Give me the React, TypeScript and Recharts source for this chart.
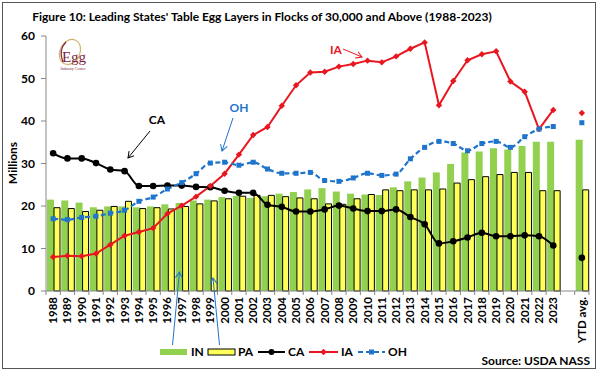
import { Bar, ComposedChart, Line, XAxis, YAxis } from "recharts";

const categories = [
  "1988", "1989", "1990", "1991", "1992", "1993", "1994", "1995", "1996", "1997",
  "1998", "1999", "2000", "2001", "2002", "2003", "2004", "2005", "2006", "2007",
  "2008", "2009", "2010", "2011", "2012", "2013", "2014", "2015", "2016", "2017",
  "2018", "2019", "2020", "2021", "2022", "2023", "", "YTD avg.",
];

const inLayers = [
  21.5, 21.3, 20.8, 19.7, 19.9, 19.9, 19.7, 19.9, 20.4, 20.7,
  21.3, 21.5, 22.1, 22.4, 21.9, 22.3, 22.9, 23.3, 23.9, 24.2,
  23.4, 22.9, 22.7, 22.6, 24.4, 25.8, 26.7, 27.9, 29.9, 32.6,
  32.8, 33.6, 33.3, 34.1, 35.1, 35.1, null, 35.6,
];
const paLayers = [
  19.6, 19.4, 18.7, 19.0, 19.9, 21.1, 19.4, 19.6, 19.3, 19.9,
  20.5, 21.2, 21.7, 22.3, 22.5, 22.5, 22.2, 21.9, 21.7, 20.5,
  20.4, 21.7, 22.7, 23.8, 23.6, 23.8, 23.8, 24.0, 25.4, 26.2,
  26.9, 27.4, 27.9, 27.9, 23.6, 23.6, null, 23.8,
];
const caLayers = [
  32.4, 31.2, 31.2, 30.1, 28.6, 28.2, 24.7, 24.7, 24.8, 24.8,
  24.5, 24.4, 23.6, 23.1, 23.1, 20.3, 19.8, 18.7, 18.7, 19.2,
  20.1, 19.4, 18.8, 18.8, 19.2, 17.4, 15.7, 11.2, 11.7, 12.6,
  13.7, 12.9, 12.9, 13.1, 12.9, 10.7, null, 7.8,
];
const iaLayers = [
  8.0, 8.3, 8.2, 8.8, 10.9, 13.0, 13.9, 14.8, 18.2, 20.1,
  22.2, 24.7, 27.6, 32.1, 36.7, 38.6, 43.6, 48.4, 51.4, 51.6,
  52.8, 53.4, 54.2, 53.8, 55.2, 57.0, 58.5, 43.7, 49.4, 54.3,
  55.7, 56.4, 49.3, 46.9, 38.1, 42.6, null, 41.9,
];
const ohLayers = [
  17.0, 16.8, 17.3, 17.6, 18.3, 19.0, 21.1, 22.1, 24.0, 25.5,
  27.6, 30.1, 30.3, 29.6, 30.3, 28.7, 27.7, 27.7, 27.9, 26.0,
  25.8, 26.6, 27.7, 27.2, 27.5, 31.1, 33.8, 35.2, 34.7, 33.0,
  34.7, 35.2, 33.8, 36.3, 38.1, 38.7, null, 39.6,
];
const yTicks = [0, 10, 20, 30, 40, 50, 60];

const data = categories.map((year, i) => ({
  year,
  IN: inLayers[i],
  PA: paLayers[i],
  CA: caLayers[i],
  IA: iaLayers[i],
  OH: ohLayers[i],
}));

const FONT = "Lato, 'Open Sans', sans-serif";
const GREEN = "#92D050";
const YELLOW = "#FFFF5A";
const RED = "#E8171F";
const BLUE = "#1F74CC";
const HALF_BAND = 7.14;

function YearTick(props: any) {
  const { x, y, payload, index } = props;
  const isLast = index === categories.length - 1;
  return (
    <g>
      <line x1={x - HALF_BAND} x2={x - HALF_BAND} y1={y} y2={y + 4} stroke="#888" />
      {isLast && <line x1={x + HALF_BAND} x2={x + HALF_BAND} y1={y} y2={y + 4} stroke="#888" />}
      <text
        x={x}
        y={y + 6}
        dy={4}
        transform={`rotate(-90, ${x}, ${y + 6})`}
        textAnchor="end"
        fontFamily={FONT}
        fontWeight={700}
        fontSize={11.5}
        fill="#000"
      >
        {payload.value}
      </text>
    </g>
  );
}

function Diamond(props: any) {
  const { cx, cy } = props;
  if (cx == null || cy == null) return <g />;
  const r = 3.2;
  return <path d={`M${cx},${cy - r}L${cx + r},${cy}L${cx},${cy + r}L${cx - r},${cy}Z`} fill={RED} />;
}

function Square(props: any) {
  const { cx, cy } = props;
  if (cx == null || cy == null) return <g />;
  return <rect x={cx - 2.5} y={cy - 2.5} width={5} height={5} fill={BLUE} />;
}

function Overlay() {
  const txt = { fontFamily: FONT, fontWeight: 700, fontSize: 12 } as const;
  return (
    <svg width={602} height={377} style={{ position: "absolute", left: 0, top: 0, pointerEvents: "none" }}>
      <defs>
        <marker id="arrK" markerWidth="8" markerHeight="8" refX="6" refY="4" orient="auto" markerUnits="userSpaceOnUse">
          <path d="M0,0.5 L6,4 L0,7.5" fill="none" stroke="#000" strokeWidth="1" />
        </marker>
        <marker id="arrR" markerWidth="8" markerHeight="8" refX="6" refY="4" orient="auto" markerUnits="userSpaceOnUse">
          <path d="M0,0.5 L6,4 L0,7.5" fill="none" stroke={RED} strokeWidth="1" />
        </marker>
        <marker id="arrB" markerWidth="8" markerHeight="8" refX="6" refY="4" orient="auto" markerUnits="userSpaceOnUse">
          <path d="M0,0.5 L6,4 L0,7.5" fill="none" stroke={BLUE} strokeWidth="1" />
        </marker>
      </defs>

      {/* logo */}
      <ellipse cx={70} cy={52} rx={10} ry={13} transform="rotate(25 70 52)" fill="none" stroke="#D2B070" strokeWidth={1.2} />
      <path d="M63,62 Q58,50 66,42" fill="none" stroke="#8A2442" strokeWidth={1.2} />
      <text x={74} y={62} textAnchor="middle" fontFamily="'Liberation Serif', serif" fontSize={15} fill="#7A1F3D">Egg</text>
      <text x={73} y={70} textAnchor="middle" fontFamily="'Liberation Serif', serif" fontSize={4} fill="#7A1F3D">Industry Center</text>

      {/* y label */}
      <text x={17} y={163} transform="rotate(-90 17 163)" textAnchor="middle" {...txt}>Millions</text>

      {/* annotations */}
      <text x={157} y={124} textAnchor="middle" {...txt}>CA</text>
      <line x1={150} y1={131} x2={128} y2={158} stroke="#000" strokeWidth={1} markerEnd="url(#arrK)" />
      <text x={239} y={112} textAnchor="middle" {...txt} fill={BLUE}>OH</text>
      <line x1={233} y1={118} x2={222} y2={151} stroke={BLUE} strokeWidth={1} markerEnd="url(#arrB)" />
      <text x={336} y={54} textAnchor="middle" {...txt} fill={RED}>IA</text>
      <line x1={343} y1={49} x2={362} y2={57} stroke={RED} strokeWidth={1} markerEnd="url(#arrR)" />
      <line x1={172.5} y1={345} x2={179.5} y2={272} stroke={BLUE} strokeWidth={1} markerEnd="url(#arrB)" />
      <line x1={219.5} y1={345} x2={213} y2={278} stroke={BLUE} strokeWidth={1} markerEnd="url(#arrB)" />

      {/* legend */}
      <rect x={160} y={349} width={27} height={6} fill={GREEN} />
      <text x={191} y={356} {...txt}>IN</text>
      <rect x={208} y={349} width={27} height={6} fill={YELLOW} stroke="#000" strokeWidth={1} />
      <text x={238} y={356} {...txt}>PA</text>
      <line x1={258} x2={285} y1={352} y2={352} stroke="#000" strokeWidth={2} />
      <circle cx={271.5} cy={352} r={3} fill="#000" />
      <text x={288} y={356} {...txt}>CA</text>
      <line x1={309} x2={338} y1={352} y2={352} stroke={RED} strokeWidth={2} />
      <Diamond cx={323.5} cy={352} />
      <text x={341} y={356} {...txt}>IA</text>
      <line x1={358} x2={385} y1={352} y2={352} stroke={BLUE} strokeWidth={2} strokeDasharray="5 3" />
      <Square cx={371.5} cy={352} />
      <text x={388} y={356} {...txt}>OH</text>

      <text x={590} y={365} textAnchor="end" {...txt}>Source:  USDA NASS</text>
    </svg>
  );
}

export default function App() {
  return (
    <div style={{ position: "absolute", left: 0, top: 0, width: 602, height: 377, background: "#fff" }}>
      <div
        style={{
          position: "absolute",
          left: 2,
          top: 2,
          width: 594,
          height: 367,
          border: "1.5px solid #555",
          boxSizing: "border-box",
        }}
      />
      <div
        style={{
          position: "absolute",
          left: 0,
          top: 9,
          width: 524,
          textAlign: "center",
          fontFamily: FONT,
          fontWeight: 700,
          fontSize: 12,
          color: "#000",
        }}
      >
        Figure 10: Leading States' Table Egg Layers in Flocks of 30,000 and Above (1988-2023)
      </div>
      <div style={{ position: "absolute", left: 0, top: 0 }}>
        <ComposedChart
          width={602}
          height={377}
          data={data}
          margin={{ top: 36, right: 13, left: 0, bottom: 26 }}
          barGap={0}
          barCategoryGap={0}
        >
          <XAxis
            dataKey="year"
            height={60}
            interval={0}
            tickSize={0}
            tickMargin={0}
            tickLine={false}
            axisLine={{ stroke: "#888" }}
            tick={<YearTick />}
          />
          <YAxis
            width={46}
            domain={[0, 60]}
            ticks={yTicks}
            tickSize={5}
            tickMargin={6}
            axisLine={{ stroke: "#888" }}
            tickLine={{ stroke: "#888" }}
            tick={{ fontFamily: FONT, fontWeight: 700, fontSize: 12, fill: "#000" }}
          />
          <Bar dataKey="IN" fill={GREEN} barSize={7} isAnimationActive={false} />
          <Bar dataKey="PA" fill={YELLOW} stroke="#000" strokeWidth={1} barSize={6} isAnimationActive={false} />
          <Line
            type="monotone"
            dataKey="CA"
            stroke="#000"
            strokeWidth={2}
            dot={{ r: 3.3, fill: "#000", stroke: "#000", strokeWidth: 0 }}
            isAnimationActive={false}
          />
          <Line
            type="linear"
            dataKey="IA"
            stroke={RED}
            strokeWidth={2}
            dot={<Diamond />}
            isAnimationActive={false}
          />
          <Line
            type="monotone"
            dataKey="OH"
            stroke={BLUE}
            strokeWidth={2.2}
            strokeDasharray="5 3"
            dot={<Square />}
            isAnimationActive={false}
          />
        </ComposedChart>
      </div>
      <Overlay />
    </div>
  );
}
